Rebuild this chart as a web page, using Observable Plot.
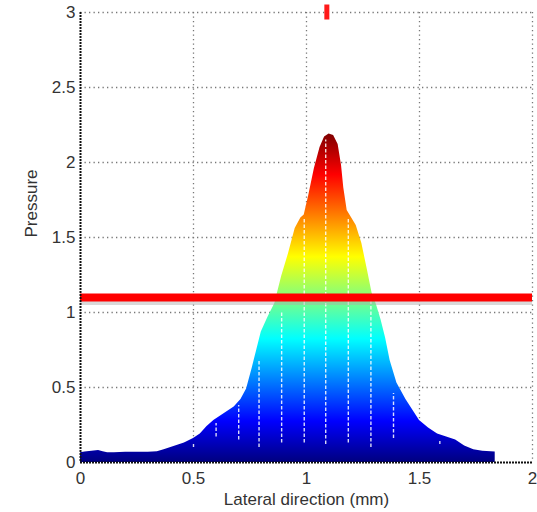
<!DOCTYPE html>
<html><head><meta charset="utf-8">
<script src="https://cdn.jsdelivr.net/npm/d3@7"></script>
<script src="https://cdn.jsdelivr.net/npm/@observablehq/plot@0.6"></script>
<style>
body{margin:0;background:#fff}
#chart svg{font-family:"Liberation Sans",Arial,sans-serif}
#chart svg text{font-size:17px !important}
</style>
</head><body><div id="chart"></div>
<script>
// Pressure profile across the lateral direction
const lateral  = [0, 0.02, 0.05, 0.08, 0.10, 0.12, 0.15, 0.20, 0.25, 0.30, 0.34, 0.37, 0.40, 0.43, 0.46, 0.50, 0.53, 0.56, 0.59, 0.62, 0.65, 0.68, 0.71, 0.735, 0.76, 0.78, 0.80, 0.83, 0.86, 0.89, 0.92, 0.95, 0.975, 0.99, 1.01, 1.035, 1.06, 1.08, 1.10, 1.12, 1.14, 1.155, 1.165, 1.18, 1.20, 1.22, 1.245, 1.27, 1.29, 1.31, 1.33, 1.35, 1.37, 1.40, 1.44, 1.47, 1.50, 1.54, 1.58, 1.62, 1.66, 1.70, 1.74, 1.78, 1.835];
const pressure = [0.065, 0.07, 0.075, 0.08, 0.072, 0.065, 0.065, 0.068, 0.068, 0.068, 0.072, 0.085, 0.10, 0.115, 0.13, 0.16, 0.19, 0.24, 0.28, 0.31, 0.34, 0.37, 0.42, 0.49, 0.63, 0.75, 0.87, 0.97, 1.06, 1.24, 1.39, 1.56, 1.63, 1.65, 1.78, 1.96, 2.10, 2.17, 2.19, 2.18, 2.12, 1.98, 1.83, 1.68, 1.63, 1.58, 1.46, 1.28, 1.13, 1.05, 0.95, 0.83, 0.68, 0.53, 0.42, 0.35, 0.28, 0.23, 0.19, 0.17, 0.15, 0.11, 0.085, 0.075, 0.07];

// threshold line and top marker
const threshold = [1.1];
const markerX = [1.09];
const markerBottom = [2.95];
const markerTop = [3.05];

// white dashed traces
const traceX      = [0.50, 0.60, 0.70, 0.79, 0.89, 0.99, 1.085, 1.185, 1.285, 1.385, 1.59];
const traceTop    = [0.12, 0.26, 0.38, 0.68, 1.00, 1.63, 2.15, 1.63, 1.08, 0.46, 0.14];
const traceBottom = [0.10, 0.17, 0.15, 0.10, 0.13, 0.13, 0.12, 0.13, 0.10, 0.16, 0.12];

// ticks
const xTicks = [0, 0.5, 1, 1.5, 2];
const yTicks = [0, 0.5, 1, 1.5, 2, 2.5, 3];
const xLabel = "Lateral direction (mm)";
const yLabel = "Pressure";

// jet colormap stops
const jetOffsets = [0, 0.125, 0.375, 0.625, 0.875, 1];
const jetColors  = ["#00007f", "#0000ff", "#00ffff", "#ffff00", "#ff0000", "#7f0000"];

const profile = lateral.map((x, i) => ({x, y: pressure[i]}));
const traces = traceX.map((x, i) => ({x, y1: traceBottom[i], y2: traceTop[i]}));
const marker = markerX.map((x, i) => ({x, y1: markerBottom[i], y2: markerTop[i]}));

const gradientDefs = () => {
  const defs = d3.create("svg:defs");
  const g = defs.append("linearGradient")
    .attr("id", "jetFill")
    .attr("x1", 0).attr("y1", 1).attr("x2", 0).attr("y2", 0);
  jetOffsets.forEach((o, i) => g.append("stop").attr("offset", o).attr("stop-color", jetColors[i]));
  return defs.node();
};

const plot = Plot.plot({
  width: 537,
  height: 512,
  marginLeft: 80,
  marginRight: 5,
  marginTop: 12,
  marginBottom: 50,
  style: {fontSize: "17px", color: "#333", background: "#fff", overflow: "visible"},
  x: {domain: [0, 2], ticks: xTicks, tickSize: 0, tickPadding: 9, label: null, tickFormat: d => String(d)},
  y: {domain: [0, 3], ticks: yTicks, tickSize: 0, tickPadding: 5, label: null, tickFormat: d => String(d)},
  marks: [
    gradientDefs,
    Plot.ruleX(xTicks.slice(1), {stroke: "#777", strokeWidth: 1.3, strokeDasharray: "1.3,3.2"}),
    Plot.ruleY(yTicks.slice(1), {stroke: "#777", strokeWidth: 1.3, strokeDasharray: "1.3,3.2"}),
    Plot.areaY(profile, {x: "x", y: "y", fill: "url(#jetFill)"}),
    Plot.ruleX(traces, {x: "x", y1: "y1", y2: "y2", stroke: "#fff", strokeOpacity: 0.85, strokeWidth: 1.4, strokeDasharray: "3.5,2"}),
    Plot.ruleY(threshold, {stroke: "#aaa", strokeOpacity: 0.45, strokeWidth: 5, dy: 5}),
    Plot.ruleY(threshold, {stroke: "#ff0000", strokeWidth: 8}),
    Plot.ruleX(marker, {x: "x", y1: "y1", y2: "y2", stroke: "#ff1a1a", strokeWidth: 5}),
    Plot.ruleX([0], {stroke: "#111", strokeWidth: 2, strokeDasharray: "2,1"}),
    Plot.ruleY([0], {stroke: "#111", strokeWidth: 2, strokeDasharray: "2,1"}),
    Plot.text([xLabel], {frameAnchor: "bottom", lineAnchor: "middle", dy: 37, fontSize: 17, fill: "#333", text: d => d}),
    Plot.text([yLabel], {frameAnchor: "left", lineAnchor: "middle", dx: -49, rotate: -90, fontSize: 17, fill: "#333", text: d => d})
  ]
});
document.getElementById("chart").appendChild(plot);
</script>
</body></html>
